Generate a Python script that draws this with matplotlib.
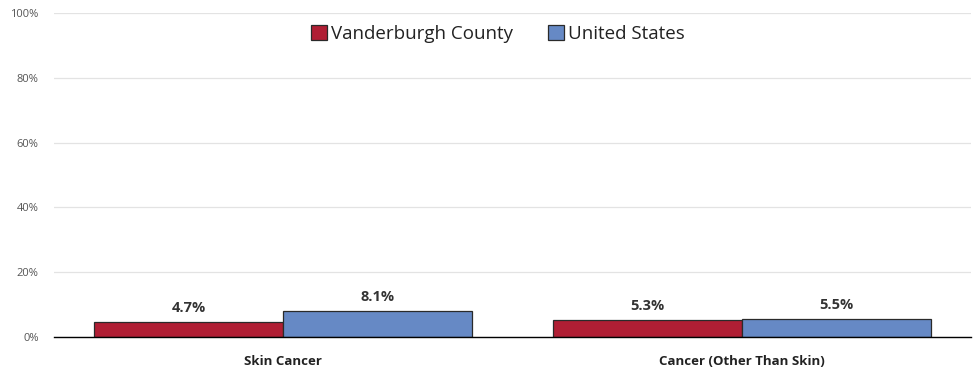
import matplotlib
matplotlib.use("Agg")
import matplotlib.pyplot as plt
import numpy as np

categories = ["Skin Cancer", "Cancer (Other Than Skin)"]
series_names = ["Vanderburgh County", "United States"]
county = [4.7, 5.3]
us = [8.1, 5.5]
yticks = [0, 20, 40, 60, 80, 100]

plt.rcParams['font.family'] = ['Open Sans', 'DejaVu Sans']

fig = plt.figure(figsize=(9.73, 3.71), dpi=100)
ax = fig.add_axes([0.0555, 0.0916, 0.9425, 0.8734])

x = np.arange(len(categories))
w = 0.412
c_red = "#B01E34"
c_blue = "#6689C5"
b1 = ax.bar(x - w/2, county, w, color=c_red, edgecolor="#2a2a2a", linewidth=0.9, label=series_names[0], zorder=3)
b2 = ax.bar(x + w/2, us, w, color=c_blue, edgecolor="#2a2a2a", linewidth=0.9, label=series_names[1], zorder=3)

for bars, vals in ((b1, county), (b2, us)):
    for b, v in zip(bars, vals):
        ax.annotate(f"{v}%", (b.get_x() + b.get_width()/2, v), xytext=(0, 5),
                    textcoords="offset points", ha="center", va="bottom",
                    fontsize=10.5, fontweight="bold", color="#333333")

ax.set_xlim(-0.5, 1.5)
ax.set_ylim(0, 100)
ax.set_yticks(yticks)
ax.set_yticklabels([f"{t}%" for t in yticks], fontsize=8, color="#555555")
ax.set_xticks(x)
ax.set_xticklabels(categories, fontsize=9.5, fontweight="bold", color="#222222")
ax.tick_params(axis="both", length=0)
ax.tick_params(axis="y", pad=11)
ax.tick_params(axis="x", pad=13)
ax.grid(axis="y", color="#E3E3E3", linewidth=0.9, zorder=0)
for s in ["top", "right", "left"]:
    ax.spines[s].set_visible(False)
ax.spines["bottom"].set_color("#000000")
ax.spines["bottom"].set_linewidth(1.0)
ax.spines["bottom"].set_zorder(4)

leg = ax.legend(loc="upper center", bbox_to_anchor=(0.484, 1.0), ncol=2, frameon=False,
                fontsize=13.5, handlelength=0.85, handleheight=0.85, handletextpad=0.2,
                columnspacing=1.9, borderaxespad=0.25)
for t in leg.get_texts():
    t.set_color("#222222")

fig.savefig("out.png", dpi=100)
